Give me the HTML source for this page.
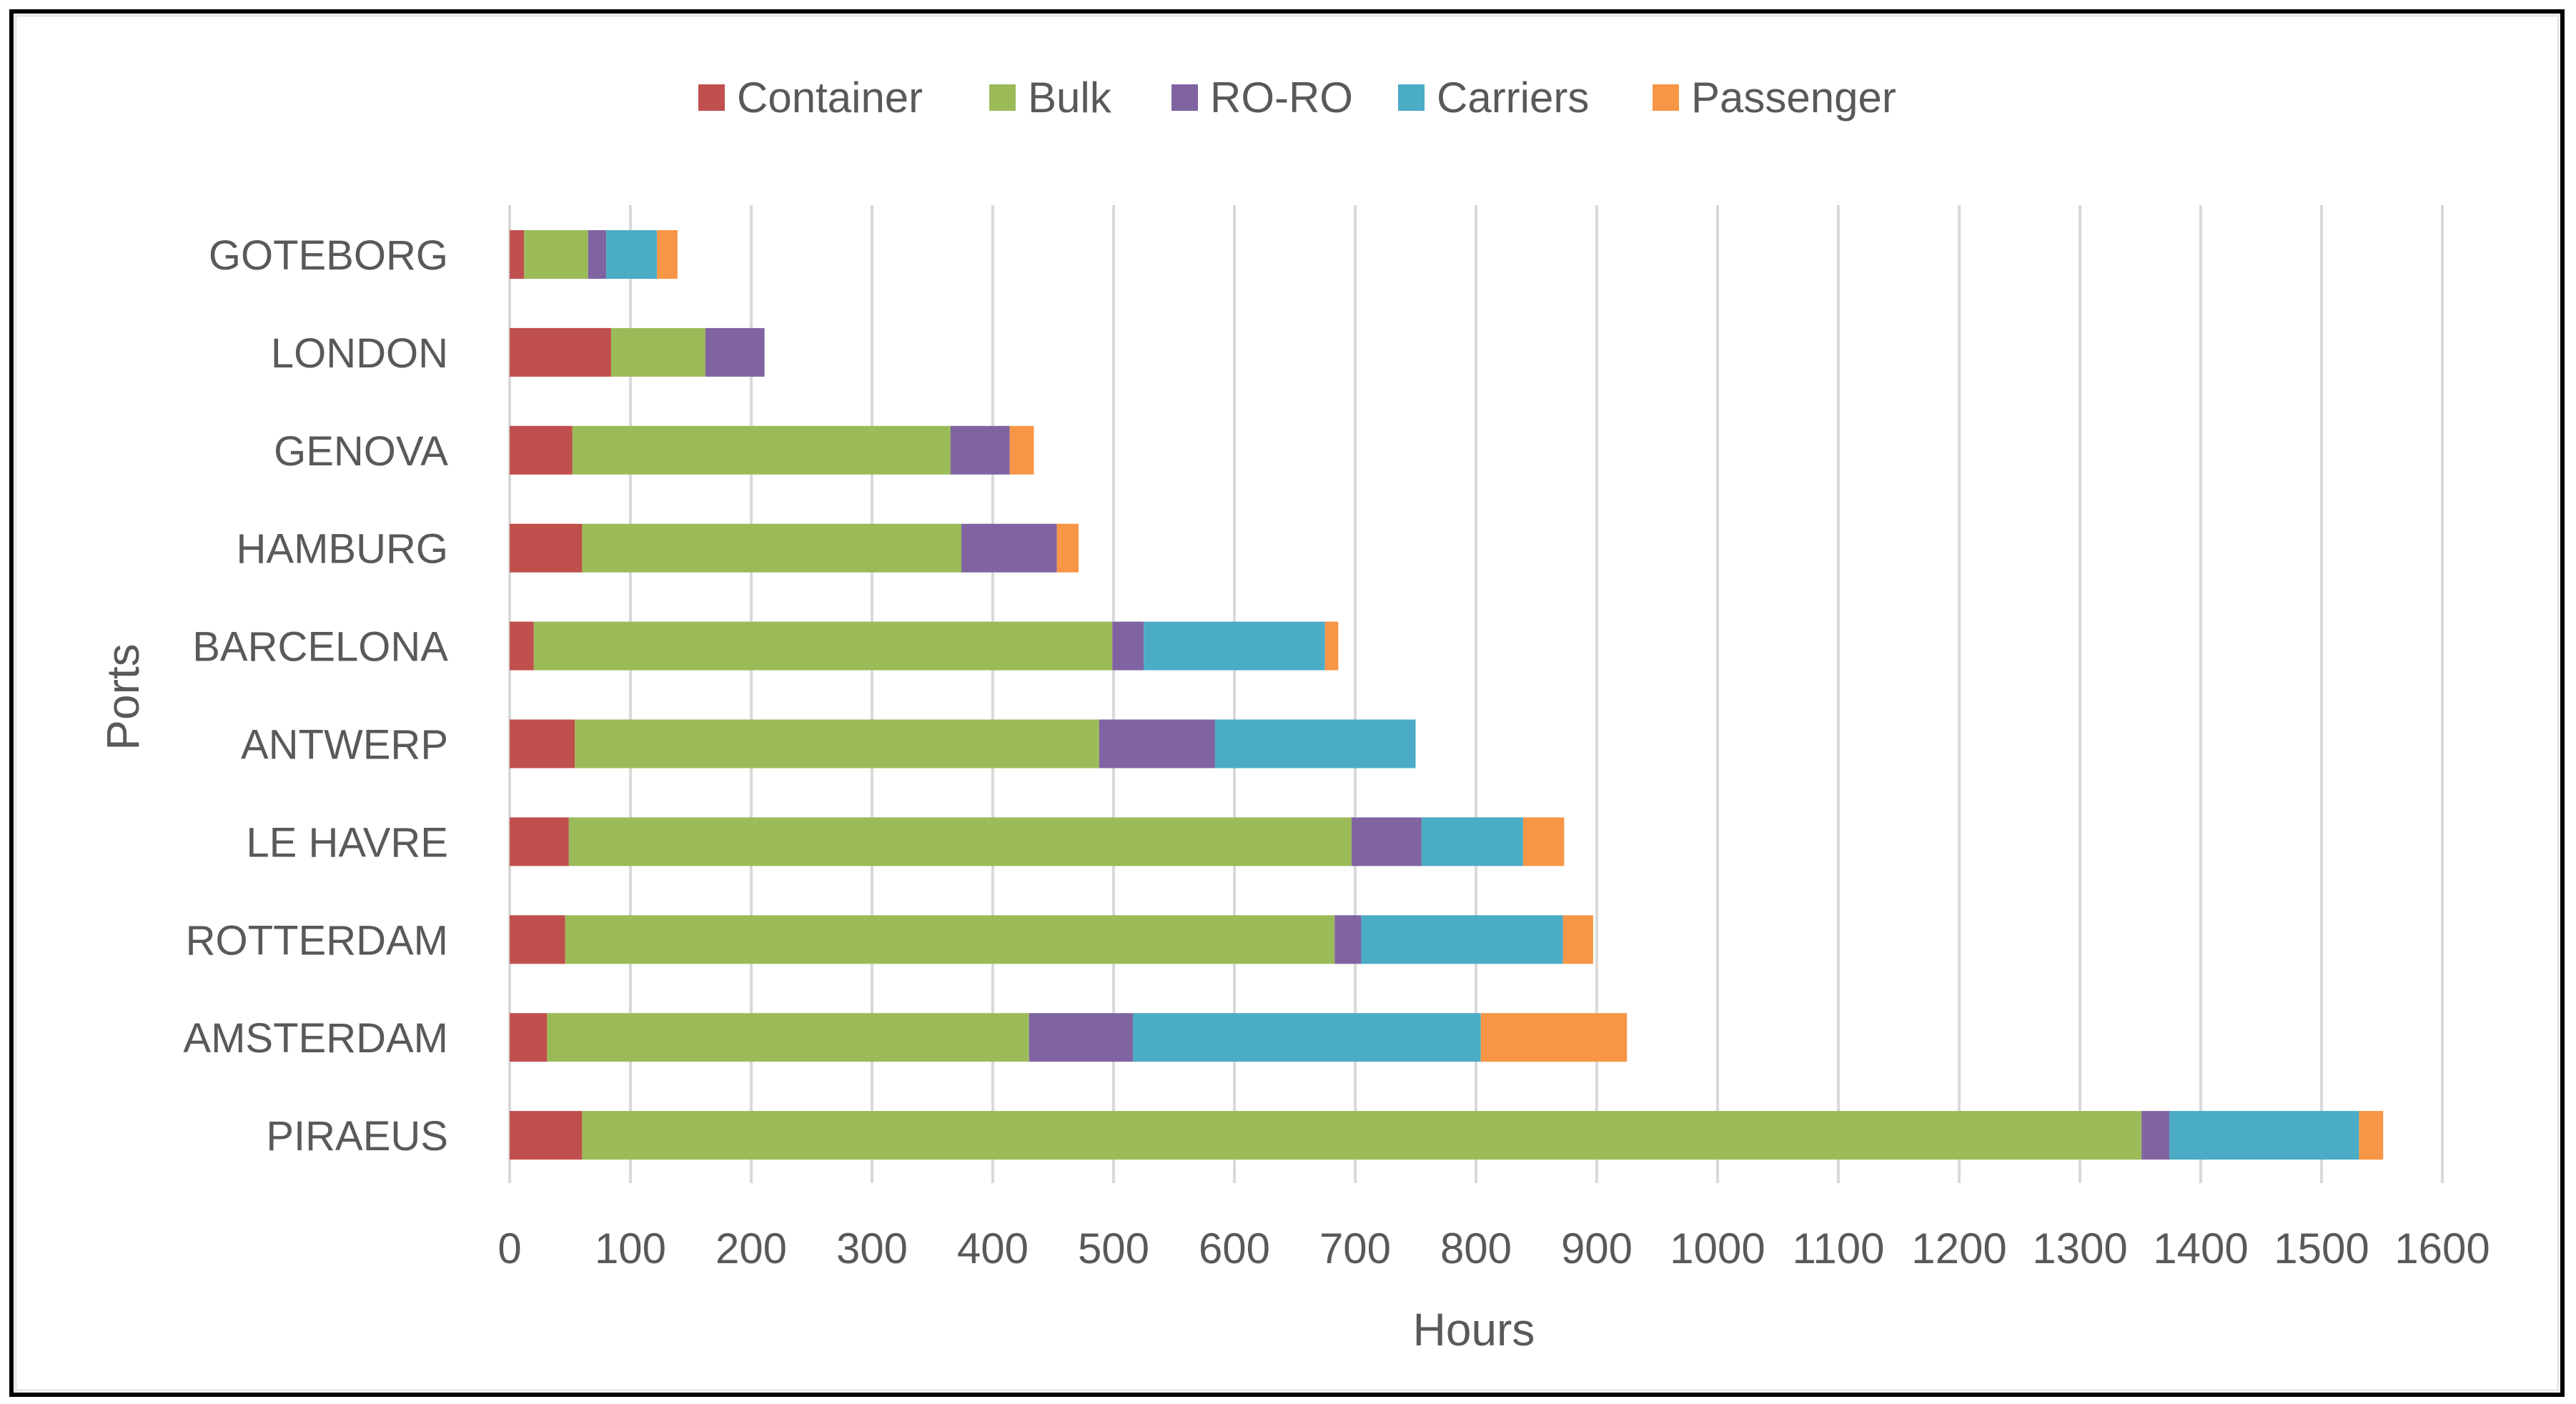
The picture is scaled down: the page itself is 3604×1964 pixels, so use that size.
<!DOCTYPE html>
<html><head><meta charset="utf-8"><style>
html,body{margin:0;padding:0;background:#fff;}
svg{display:block;font-family:"Liberation Sans",sans-serif;}
</style></head><body>
<svg id="chart" width="3604" height="1964" viewBox="0 0 3604 1964" xmlns="http://www.w3.org/2000/svg">
<rect x="16" y="16" width="3569" height="1935" fill="#fff" stroke="#000" stroke-width="6"/>
<rect x="22" y="22" width="3557" height="1923" fill="none" stroke="#e6e6e6" stroke-width="3"/>
<g id="grid"></g>
<g id="bars"></g>
<g id="xticks"></g>
<g id="yticks"></g>
<g id="legend"></g>
<text x="2062" y="1882" text-anchor="middle" font-size="64" fill="#595959">Hours</text>
<text x="0" y="0" transform="translate(194,975) rotate(-90)" text-anchor="middle" font-size="64" fill="#595959">Ports</text>
</svg>
<script>
const categories = ["GOTEBORG","LONDON","GENOVA","HAMBURG","BARCELONA","ANTWERP","LE HAVRE","ROTTERDAM","AMSTERDAM","PIRAEUS"];
const seriesNames = ["Container","Bulk","RO-RO","Carriers","Passenger"];
const container = [12,84,52,60,20,54,49,46,31,60];
const bulk = [53,78,313,314,479,434,648,637,399,1291];
const roro = [15,49,49,79,26,96,58,22,86,23];
const carriers = [42,0,0,0,150,166,84,167,288,157];
const passenger = [17,0,20,18,11,0,34,25,121,20];
const xTicks = [0,100,200,300,400,500,600,700,800,900,1000,1100,1200,1300,1400,1500,1600];

const colors = ["#C0504D","#9BBB59","#8064A2","#4BACC6","#F79646"];
const series = [container,bulk,roro,carriers,passenger];
const NS = "http://www.w3.org/2000/svg";
const x0 = 713, pxPer = 1.69;
function xScale(v){ return x0 + v*pxPer; }
const yTop = 356, band = 136.9;
function yScale(i){ return yTop + i*band; }
const barH = 68;
function mk(tag, attrs, parent){ const e=document.createElementNS(NS,tag); for(const k in attrs) e.setAttribute(k,attrs[k]); parent.appendChild(e); return e; }

const grid=document.getElementById('grid'), xt=document.getElementById('xticks');
xTicks.forEach(t=>{
  const l=mk('line',{x1:xScale(t),x2:xScale(t),y1:287,y2:1655,stroke:'#d9d9d9','stroke-width':4},grid);
  
  
  const tx=mk('text',{x:xScale(t),y:1767,'text-anchor':'middle','font-size':60,fill:'#595959'},xt);
  tx.textContent=t;
  
  
});
const bars=document.getElementById('bars'), yt=document.getElementById('yticks');
categories.forEach((c,i)=>{
  let acc=0;
  series.forEach((s,j)=>{
    const v=s[i]; if(v<=0) return;
    const r=mk('rect',{x:xScale(acc),y:yScale(i)-barH/2,width:v*pxPer,height:barH,fill:colors[j]},bars);
    
    
    acc+=v;
  });
  const tx=mk('text',{x:627,y:yScale(i)+21,'text-anchor':'end','font-size':58,fill:'#595959'},yt);
  tx.textContent=c;
  
  
});
const lg=document.getElementById('legend');
const legX=[977,1384,1639,1956,2312];
seriesNames.forEach((n,j)=>{
  const g=mk('g',{},lg);
  
  
  mk('rect',{x:legX[j],y:118,width:37,height:37,fill:colors[j]},g);
  const t=mk('text',{x:legX[j]+54,y:157,'font-size':60,fill:'#595959'},g);
  t.textContent=n;
});
</script>
</body></html>
